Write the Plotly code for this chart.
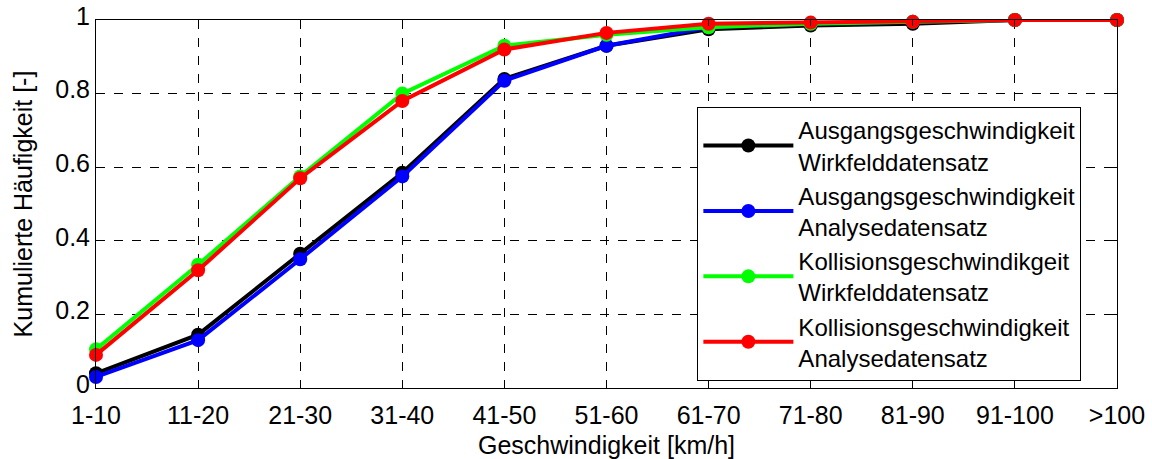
import plotly.graph_objects as go

categories = ["1-10", "11-20", "21-30", "31-40", "41-50", "51-60", "61-70", "71-80", "81-90", "91-100", ">100"]
ausgang_wirkfeld = [0.04, 0.145, 0.365, 0.585, 0.84, 0.93, 0.975, 0.985, 0.99, 1.0, 1.0]
ausgang_analyse = [0.03, 0.13, 0.35, 0.575, 0.835, 0.93, 0.98, 0.99, 0.995, 1.0, 1.0]
kollision_wirkfeld = [0.105, 0.335, 0.575, 0.80, 0.93, 0.96, 0.98, 0.99, 0.995, 1.0, 1.0]
kollision_analyse = [0.09, 0.32, 0.57, 0.78, 0.92, 0.965, 0.99, 0.993, 0.995, 1.0, 1.0]
y_ticks = [0, 0.2, 0.4, 0.6, 0.8, 1]
y_ticklabels = ["0", "0.2", "0.4", "0.6", "0.8", "1"]

series = [
    ("Ausgangsgeschwindigkeit<br>Wirkfelddatensatz", ausgang_wirkfeld, "#000000"),
    ("Ausgangsgeschwindigkeit<br>Analysedatensatz", ausgang_analyse, "#0000ff"),
    ("Kollisionsgeschwindikgeit<br>Wirkfelddatensatz", kollision_wirkfeld, "#00ff00"),
    ("Kollisionsgeschwindigkeit<br>Analysedatensatz", kollision_analyse, "#ff0000"),
]

fig = go.Figure()
for name, vals, color in series:
    fig.add_trace(go.Scatter(
        x=categories, y=vals, name=name, mode="lines+markers",
        line=dict(color=color, width=4),
        marker=dict(color=color, size=14),
        cliponaxis=False,
    ))

FAM = "Liberation Sans, Arial, sans-serif"
title_font = dict(family=FAM, size=25, color="black")
tick_font = dict(family=FAM, size=25, color="black")
legend_font = dict(family=FAM, size=24, color="black")
fig.update_layout(
    width=1152, height=459,
    margin=dict(l=96, r=35, t=20, b=71),
    paper_bgcolor="white", plot_bgcolor="white",
    font=title_font,
    showlegend=True,
    legend=dict(
        x=0.589, y=0.764, xanchor="left", yanchor="top",
        bgcolor="white", bordercolor="black", borderwidth=1,
        font=legend_font,
        tracegroupgap=0, itemwidth=90,
    ),
)
fig.update_xaxes(
    type="category", categoryorder="array", categoryarray=categories,
    range=[0, len(categories) - 1], automargin=False,
    title=dict(text="Geschwindigkeit [km/h]", font=title_font, standoff=12),
    showline=True, linecolor="black", linewidth=1, mirror="ticks",
    ticks="inside", ticklen=6, tickcolor="black",
    showgrid=True, gridcolor="black", griddash="dash", gridwidth=1,
    tickfont=tick_font, zeroline=False, ticklabelstandoff=5,
)
fig.update_yaxes(
    range=[0, 1], tickvals=y_ticks, ticktext=y_ticklabels, automargin=False,
    title=dict(text="Kumulierte Häufigkeit [-]", font=title_font, standoff=15),
    showline=True, linecolor="black", linewidth=1, mirror="ticks",
    ticks="inside", ticklen=6, tickcolor="black",
    showgrid=True, gridcolor="black", griddash="dash", gridwidth=1,
    tickfont=tick_font, zeroline=False, ticklabelshift=-4,
)
fig.write_html("out.html")
